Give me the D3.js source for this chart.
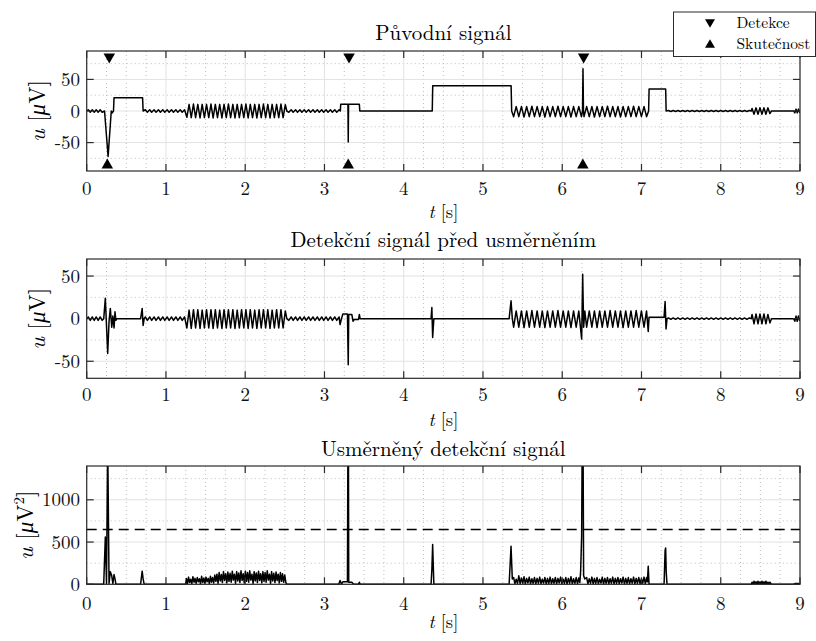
<!DOCTYPE html>
<html>
<head>
<meta charset="utf-8">
<script src="https://cdn.jsdelivr.net/npm/d3@7"></script>
<style>
  body { margin: 0; background: #fff; }
</style>
</head>
<body>
<svg id="fig" width="816" height="641"></svg>
<script>
// ---------- data ----------
const timeTicks = [0, 1, 2, 3, 4, 5, 6, 7, 8, 9];
const origTicks = [-50, 0, 50];
const origMinor = [-75, -25, 25, 75];
const detTicks = [-50, 0, 50];
const detMinor = [-75, -25, 25, 75];
const rectTicks = [0, 500, 1000];
const rectMinor = [250, 750, 1250];
const threshold = 650;

// detections and true events (time in s, marker level in μV)
const detectTimes = [0.285, 3.31, 6.27];
const trueTimes = [0.26, 3.30, 6.26];
const detectLevel = 83;
const trueLevel = -83;

// background ripple segments [t, u]
const rippleStart = [[0,0],[0.02,2],[0.045,-2],[0.07,2],[0.095,-2],[0.12,2],[0.145,-2],[0.17,2],[0.195,-2]];
const rippleA = [[0.74,2],[0.765,-2],[0.795,2],[0.82,-2],[0.85,2],[0.875,-2],[0.905,2],[0.93,-2],[0.96,2],[0.985,-2],[1.015,2],[1.04,-2],[1.07,2],[1.095,-2],[1.125,2],[1.15,-2],[1.18,2],[1.205,-2],[1.235,2]];
const rippleB = [[2.55,-2],[2.58,2],[2.605,-2],[2.635,2],[2.66,-2],[2.69,2],[2.715,-2],[2.745,2],[2.77,-2],[2.8,2],[2.825,-2],[2.855,2],[2.88,-2],[2.91,2],[2.935,-2],[2.965,2],[2.99,-2],[3.02,2],[3.045,-2],[3.075,2],[3.1,-2],[3.13,2],[3.155,-2],[3.185,2]];
const rippleC = [[7.34,0.8],[7.37,-0.8],[7.4,0.8],[7.43,-0.8],[7.46,0.8],[7.49,-0.8],[7.52,0.8],[7.55,-0.8],[7.58,0.8],[7.61,-0.8],[7.64,0.8],[7.67,-0.8],[7.7,0.8],[7.73,-0.8],[7.76,0.8],[7.79,-0.8],[7.82,0.8],[7.85,-0.8],[7.88,0.8],[7.91,-0.8],[7.94,0.8],[7.97,-0.8],[8.0,0.8],[8.03,-0.8],[8.06,0.8],[8.09,-0.8],[8.12,0.8],[8.15,-0.8],[8.18,0.8],[8.21,-0.8],[8.24,0.8],[8.27,-0.8],[8.3,0.8],[8.33,-0.8],[8.36,0.8]];
const rippleEnd = [[8.92,0],[8.935,-3],[8.95,3],[8.965,-3],[8.98,3],[8.995,-2],[9,0]];

// original signal u(t) [μV]
const origBurst1 = [[1.264,-10],[1.292,10.5],[1.319,-10.5],[1.347,11],[1.374,-10.5],[1.402,10.5],[1.43,-11],[1.457,10.5],[1.485,-10.5],[1.512,10.5],[1.54,-10.5],[1.568,11],[1.595,-11],[1.623,10.5],[1.65,-10.5],[1.678,10.5],[1.706,-11],[1.733,10.5],[1.761,-10.5],[1.788,11],[1.816,-10.5],[1.844,10.5],[1.871,-11],[1.899,10.5],[1.926,-10.5],[1.954,10.5],[1.982,-10.5],[2.009,11],[2.037,-11],[2.064,10.5],[2.092,-10.5],[2.12,10.5],[2.147,-11],[2.175,10.5],[2.202,-10.5],[2.23,11],[2.258,-10.5],[2.285,10.5],[2.313,-11],[2.34,10.5],[2.368,-10.5],[2.396,10.5],[2.423,-10.5],[2.451,11],[2.478,-10.5],[2.506,10]];
const origBurst2a = [[5.387,-9],[5.419,7],[5.452,-9],[5.485,7],[5.518,-9.5],[5.551,7],[5.584,-9],[5.617,7.5],[5.65,-9],[5.683,7],[5.716,-9],[5.748,7],[5.781,-9.5],[5.814,7],[5.847,-9],[5.88,7],[5.913,-9],[5.946,7.5],[5.979,-9],[6.012,7],[6.045,-9],[6.077,7],[6.11,-9.5],[6.143,7],[6.176,-9],[6.209,7],[6.242,-9]];
const origBurst2b = [[6.275,-9],[6.308,7],[6.341,-9],[6.374,7],[6.406,-9.5],[6.439,7],[6.472,-9],[6.505,7],[6.538,-9],[6.571,7.5],[6.604,-9],[6.637,7],[6.67,-9],[6.703,7],[6.735,-9.5],[6.768,7],[6.801,-9],[6.834,7],[6.867,-9],[6.9,7.5],[6.933,-9],[6.966,7],[6.999,-9],[7.032,7],[7.064,-9]];
const origBurst3 = [[8.385,0],[8.395,4],[8.42,-5],[8.445,5],[8.47,-5],[8.495,5],[8.52,-5],[8.545,5],[8.57,-5],[8.595,5],[8.62,-4],[8.64,0]];
const origSignal = [
  ...rippleStart,
  [0.225,0],[0.27,-72],[0.31,0],[0.322,-3],[0.338,0],[0.345,21],[0.705,21],[0.712,0],
  ...rippleA, ...origBurst1, [2.525,0], ...rippleB,
  [3.2,0],[3.205,10.5],[3.296,10.5],[3.3,-49],[3.304,10.5],[3.44,10.5],[3.446,0],
  [4.36,0],[4.366,40],[5.355,40],[5.362,0],
  ...origBurst2a, [6.256,0],[6.262,67],[6.268,0], ...origBurst2b,
  [7.09,0],[7.096,35],[7.305,35],[7.311,0],
  ...rippleC, ...origBurst3, ...rippleEnd
];

// detection signal before rectification [μV]
const detBurst1 = [[1.264,-11],[1.292,10],[1.319,-11.5],[1.347,10.5],[1.374,-11],[1.402,10.5],[1.43,-11.5],[1.457,10],[1.485,-11],[1.512,10.5],[1.54,-11],[1.568,10.5],[1.595,-11.5],[1.623,10.5],[1.65,-11],[1.678,10],[1.706,-11.5],[1.733,10.5],[1.761,-11],[1.788,10.5],[1.816,-11],[1.844,10.5],[1.871,-11.5],[1.899,10],[1.926,-11],[1.954,10.5],[1.982,-11],[2.009,10.5],[2.037,-11.5],[2.064,10.5],[2.092,-11],[2.12,10],[2.147,-11.5],[2.175,10.5],[2.202,-11],[2.23,10.5],[2.258,-11],[2.285,10.5],[2.313,-11.5],[2.34,10],[2.368,-11],[2.396,10.5],[2.423,-11],[2.451,10.5],[2.478,-11],[2.506,9]];
const detBurst2a = [[5.387,-10],[5.419,9],[5.452,-10],[5.485,9],[5.518,-10.5],[5.551,9],[5.584,-10],[5.617,9.5],[5.65,-10],[5.683,9],[5.716,-10],[5.748,9],[5.781,-10.5],[5.814,9],[5.847,-10],[5.88,9],[5.913,-10],[5.946,9.5],[5.979,-10],[6.012,9],[6.045,-10],[6.077,9],[6.11,-10.5],[6.143,9],[6.176,-10],[6.209,9]];
const detBurst2b = [[6.308,-10],[6.341,9],[6.374,-10],[6.406,9],[6.439,-10.5],[6.472,9],[6.505,-10],[6.538,9],[6.571,-10],[6.604,9.5],[6.637,-10],[6.67,9],[6.703,-10],[6.735,9],[6.768,-10.5],[6.801,9],[6.834,-10],[6.867,9],[6.9,-10],[6.933,9.5],[6.966,-10],[6.999,9],[7.032,-10],[7.064,9]];
const detBurst3 = [[8.385,0],[8.395,5],[8.42,-6],[8.445,5.5],[8.47,-6],[8.495,5.5],[8.52,-6],[8.545,5.5],[8.57,-6],[8.595,5],[8.62,-5],[8.64,0]];
const detSignal = [
  ...rippleStart,
  [0.215,0],[0.235,24],[0.265,-41],[0.282,-3],[0.298,12],[0.316,-10],[0.33,3],[0.345,-11],[0.357,8],[0.368,-2],[0.38,0],
  [0.68,0],[0.7,12],[0.712,-8],[0.725,0],
  ...rippleA, ...detBurst1, [2.525,0], ...rippleB,
  [3.197,-7],[3.215,0],[3.232,5.5],[3.29,5.5],[3.3,-54],[3.306,5],[3.345,5],[3.36,-3],[3.375,-1],[3.43,-1],[3.44,5],[3.45,0],
  [4.345,0],[4.355,13],[4.365,-22],[4.38,0],
  [5.33,0],[5.354,21],[5.37,0],
  ...detBurst2a, [6.232,-12],[6.245,-24],[6.258,52],[6.27,-10],[6.285,9], ...detBurst2b,
  [7.085,-15],[7.095,1.5],[7.285,1.5],[7.298,20],[7.31,-12],[7.322,0],
  ...rippleC, ...detBurst3, ...rippleEnd
];

// rectified detection signal [μV²]
const rectBand1 = [[1.257,70],[1.271,8],[1.285,85],[1.298,20],[1.312,60],[1.326,5],[1.34,90],[1.354,25],[1.367,70],[1.381,10],[1.395,80],[1.409,30],[1.423,65],[1.436,6],[1.45,95],[1.464,20],[1.478,75],[1.492,12],[1.505,85],[1.519,30],[1.533,70],[1.547,8],[1.561,95],[1.574,25],[1.588,80],[1.602,15],[1.616,110],[1.63,35],[1.643,120],[1.657,10],[1.671,140],[1.685,40],[1.699,115],[1.712,20],[1.726,150],[1.74,45],[1.754,125],[1.768,15],[1.781,145],[1.795,35],[1.809,130],[1.823,25],[1.837,155],[1.85,50],[1.864,120],[1.878,10],[1.892,150],[1.906,40],[1.919,135],[1.933,20],[1.947,160],[1.961,45],[1.975,125],[1.988,15],[2.002,155],[2.016,35],[2.03,140],[2.044,25],[2.057,160],[2.071,50],[2.085,120],[2.099,10],[2.113,150],[2.126,40],[2.14,135],[2.154,20],[2.168,155],[2.182,45],[2.195,125],[2.209,15],[2.223,150],[2.237,35],[2.251,140],[2.264,25],[2.278,160],[2.292,50],[2.306,120],[2.32,10],[2.333,150],[2.347,40],[2.361,130],[2.375,20],[2.389,145],[2.402,45],[2.416,120],[2.43,15],[2.444,140],[2.458,35],[2.471,125],[2.485,25],[2.499,110],[2.513,20]];
const rectBand2 = [[5.387,80],[5.403,5],[5.419,60],[5.436,10],[5.452,100],[5.469,4],[5.485,75],[5.502,12],[5.518,90],[5.534,3],[5.551,70],[5.567,15],[5.584,85],[5.6,6],[5.617,65],[5.633,10],[5.65,80],[5.666,4],[5.683,70],[5.699,12],[5.716,85],[5.732,5],[5.748,60],[5.765,14],[5.781,80],[5.798,3],[5.814,70],[5.831,10],[5.847,85],[5.864,6],[5.88,65],[5.896,12],[5.913,80],[5.929,4],[5.946,70],[5.962,15],[5.979,85],[5.995,5],[6.012,60],[6.028,10],[6.045,80],[6.061,3],[6.077,70],[6.094,12],[6.11,90],[6.127,6],[6.143,65],[6.16,10],[6.176,80],[6.193,4],[6.209,75],[6.222,20]];
const rectBand3 = [[6.308,80],[6.324,5],[6.341,65],[6.357,12],[6.374,85],[6.39,4],[6.406,70],[6.423,10],[6.439,80],[6.456,6],[6.472,60],[6.489,14],[6.505,85],[6.521,3],[6.538,70],[6.554,10],[6.571,80],[6.587,5],[6.604,65],[6.62,12],[6.637,85],[6.653,4],[6.67,70],[6.686,10],[6.703,80],[6.719,6],[6.735,65],[6.752,14],[6.768,85],[6.785,3],[6.801,70],[6.818,10],[6.834,80],[6.85,5],[6.867,65],[6.883,12],[6.9,85],[6.916,4],[6.933,70],[6.949,10],[6.966,80],[6.982,6],[6.999,65],[7.015,12],[7.032,85],[7.048,5],[7.064,80]];
const rectBand4 = [[8.385,0],[8.395,25],[8.407,3],[8.42,36],[8.432,4],[8.445,30],[8.457,2],[8.47,36],[8.482,5],[8.495,30],[8.507,3],[8.52,36],[8.532,4],[8.545,30],[8.557,2],[8.57,36],[8.582,5],[8.595,25],[8.607,3],[8.62,25],[8.64,0]];
const rectSignal = [
  [0,0],[0.2,0],[0.215,9],[0.235,560],[0.25,10],[0.265,1700],[0.282,9],[0.298,150],[0.316,100],[0.33,9],[0.345,115],[0.357,64],[0.368,4],[0.38,0],
  [0.68,0],[0.7,155],[0.712,64],[0.725,0],[1.25,0],
  ...rectBand1, [2.525,0],
  [3.18,0],[3.197,45],[3.215,0],[3.232,30],[3.29,30],[3.3,2900],[3.306,25],[3.345,25],[3.36,9],[3.375,1],[3.43,1],[3.44,25],[3.45,0],
  [4.345,0],[4.355,169],[4.365,470],[4.38,0],
  [5.33,0],[5.354,450],[5.37,64],
  ...rectBand2, [6.232,150],[6.245,570],[6.258,2700],[6.27,100],[6.285,64], ...rectBand3,
  [7.075,30],[7.085,215],[7.095,2],[7.285,2],[7.298,400],[7.305,430],[7.312,144],[7.322,0],
  [8.38,0], ...rectBand4,
  [8.92,0],[8.935,9],[8.95,9],[8.965,9],[8.98,9],[8.995,4],[9,0]
];

// ---------- layout ----------
const svg = d3.select("#fig");
const x = d3.scaleLinear().domain([0, 9]).range([86.7, 800]);
const tickLen = 7;
const boxColor = "#2b2b2b";
const FONT = "Latin Modern Roman";

const panels = [
  { id: "p1", title: "Původní signál", top: 51, bottom: 171, domain: [-95, 95],
    ticks: origTicks, minor: origMinor, data: origSignal,
    titleY: 40, tickY: 195, xlabY: 218, ylabX: 45, sup: false },
  { id: "p2", title: "Detekční signál před usměrněním", top: 259, bottom: 378.3, domain: [-70, 70],
    ticks: detTicks, minor: detMinor, data: detSignal,
    titleY: 247, tickY: 401, xlabY: 426, ylabX: 45, sup: false },
  { id: "p3", title: "Usměrněný detekční signál", top: 466, bottom: 584.3, domain: [0, 1400],
    ticks: rectTicks, minor: rectMinor, data: rectSignal,
    titleY: 456, tickY: 610, xlabY: 628, ylabX: 33, sup: true }
];

const minorTimes = d3.range(0, 9.0001, 0.25).filter(t => Math.abs(t - Math.round(t)) > 1e-6);
const defs = svg.append("defs");

panels.forEach(p => {
  const y = d3.scaleLinear().domain(p.domain).range([p.bottom, p.top]);
  const g = svg.append("g");
  const x0 = x.range()[0], x1 = x.range()[1];

  defs.append("clipPath").attr("id", "clip-" + p.id)
    .append("rect").attr("x", x0).attr("y", p.top).attr("width", x1 - x0).attr("height", p.bottom - p.top + 1);

  // minor grid (dotted)
  const minorG = g.append("g").attr("stroke", "#bdbdbd").attr("stroke-width", 1).attr("stroke-dasharray", "1,3");
  minorG.selectAll("line.vx").data(minorTimes).join("line")
    .attr("x1", d => x(d)).attr("x2", d => x(d)).attr("y1", p.top).attr("y2", p.bottom);
  minorG.selectAll("line.hy").data(p.minor.filter(v => v > p.domain[0] && v < p.domain[1])).join("line")
    .attr("x1", x0).attr("x2", x1).attr("y1", d => y(d)).attr("y2", d => y(d));

  // major grid
  const majorG = g.append("g").attr("stroke", "#e2e2e2").attr("stroke-width", 1);
  majorG.selectAll("line.vx").data(timeTicks).join("line")
    .attr("x1", d => x(d)).attr("x2", d => x(d)).attr("y1", p.top).attr("y2", p.bottom);
  majorG.selectAll("line.hy").data(p.ticks).join("line")
    .attr("x1", x0).attr("x2", x1).attr("y1", d => y(d)).attr("y2", d => y(d));

  // threshold for the rectified signal
  if (p.id === "p3") {
    g.append("line").attr("x1", x0).attr("x2", x1).attr("y1", y(threshold)).attr("y2", y(threshold))
      .attr("stroke", "#000").attr("stroke-width", 1.5).attr("stroke-dasharray", "10,6");
  }

  // signal trace
  const line = d3.line().x(d => x(d[0])).y(d => y(d[1]));
  g.append("path").datum(p.data)
    .attr("clip-path", "url(#clip-" + p.id + ")")
    .attr("fill", "none").attr("stroke", "#000").attr("stroke-width", 1.5)
    .attr("stroke-linejoin", "round")
    .attr("d", line);

  // box
  g.append("rect").attr("x", x0).attr("y", p.top).attr("width", x1 - x0).attr("height", p.bottom - p.top)
    .attr("fill", "none").attr("stroke", boxColor).attr("stroke-width", 1.2);

  // ticks (inward, on all four sides)
  const tickG = g.append("g").attr("stroke", boxColor).attr("stroke-width", 1.2);
  timeTicks.forEach(t => {
    tickG.append("line").attr("x1", x(t)).attr("x2", x(t)).attr("y1", p.bottom).attr("y2", p.bottom - tickLen);
    tickG.append("line").attr("x1", x(t)).attr("x2", x(t)).attr("y1", p.top).attr("y2", p.top + tickLen);
  });
  p.ticks.forEach(v => {
    tickG.append("line").attr("x1", x0).attr("x2", x0 + tickLen).attr("y1", y(v)).attr("y2", y(v));
    tickG.append("line").attr("x1", x1).attr("x2", x1 - tickLen).attr("y1", y(v)).attr("y2", y(v));
  });

  // tick labels
  g.selectAll("text.xt").data(timeTicks).join("text")
    .attr("x", d => x(d)).attr("y", p.tickY).attr("text-anchor", "middle")
    .attr("font-family", FONT).attr("font-size", 19).attr("fill", "#111").text(d => d);
  g.selectAll("text.yt").data(p.ticks).join("text")
    .attr("x", 80).attr("y", d => y(d) + 6.5).attr("text-anchor", "end")
    .attr("font-family", FONT).attr("font-size", 19).attr("fill", "#111").text(d => d);

  // title
  g.append("text").attr("x", (x0 + x1) / 2).attr("y", p.titleY).attr("text-anchor", "middle")
    .attr("font-family", FONT).attr("font-size", 21).attr("fill", "#000").text(p.title);

  // x label: t [s]
  const xl = g.append("text").attr("x", (x0 + x1) / 2).attr("y", p.xlabY).attr("text-anchor", "middle")
    .attr("font-family", FONT).attr("font-size", 18.5).attr("fill", "#000");
  xl.append("tspan").attr("font-style", "italic").text("t");
  xl.append("tspan").text(" [s]");

  // y label: u [μV] or u [μV²]
  const yl = g.append("text")
    .attr("transform", `translate(${p.ylabX},${(p.top + p.bottom) / 2}) rotate(-90)`)
    .attr("text-anchor", "middle").attr("font-family", FONT).attr("font-size", 23).attr("fill", "#000");
  yl.append("tspan").attr("font-style", "italic").text("u");
  yl.append("tspan").text(" [");
  yl.append("tspan").attr("font-style", "italic").text("μ");
  yl.append("tspan").text("V");
  if (p.sup) {
    yl.append("tspan").attr("font-size", 15).attr("dy", -9).text("2");
    yl.append("tspan").attr("dy", 9).text("]");
  } else {
    yl.append("tspan").text("]");
  }

  p.y = y;
});

// ---------- event markers on the original signal ----------
const triDown = (cx, cy, w, h) => `M${cx - w / 2},${cy - h / 2}L${cx + w / 2},${cy - h / 2}L${cx},${cy + h / 2}Z`;
const triUp = (cx, cy, w, h) => `M${cx - w / 2},${cy + h / 2}L${cx + w / 2},${cy + h / 2}L${cx},${cy - h / 2}Z`;
const y1 = panels[0].y;
svg.append("g").selectAll("path").data(detectTimes).join("path")
  .attr("d", t => triDown(x(t), y1(detectLevel), 11.5, 10)).attr("fill", "#000");
svg.append("g").selectAll("path").data(trueTimes).join("path")
  .attr("d", t => triUp(x(t), y1(trueLevel), 11.5, 10)).attr("fill", "#000");

// ---------- legend ----------
const lg = svg.append("g");
lg.append("rect").attr("x", 673.5).attr("y", 12).attr("width", 142).attr("height", 44.5)
  .attr("fill", "#fff").attr("stroke", boxColor).attr("stroke-width", 1);
lg.append("path").attr("d", triDown(710, 23.5, 10, 8.5)).attr("fill", "#000");
lg.append("path").attr("d", triUp(710, 43.5, 10, 8.5)).attr("fill", "#000");
lg.append("text").attr("x", 736.5).attr("y", 28).attr("font-family", FONT).attr("font-size", 15.5).text("Detekce");
lg.append("text").attr("x", 736.5).attr("y", 48.5).attr("font-family", FONT).attr("font-size", 15.5).text("Skutečnost");
</script>
</body>
</html>
